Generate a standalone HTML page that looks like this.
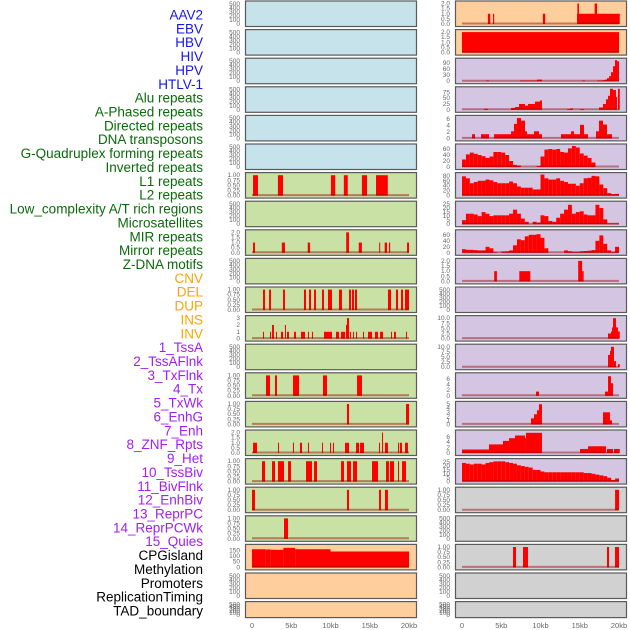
<!DOCTYPE html>
<html><head><meta charset="utf-8"><style>
html,body{margin:0;padding:0;background:#fff;}
svg{display:block;font-family:"Liberation Sans",sans-serif;}
</style></head><body>
<svg id="chart" width="630" height="630" viewBox="0 0 630 630"></svg>
<script>
const labels=["AAV2","EBV","HBV","HIV","HPV","HTLV-1","Alu repeats","A-Phased repeats","Directed repeats","DNA transposons","G-Quadruplex forming repeats","Inverted repeats","L1 repeats","L2 repeats","Low_complexity A/T rich regions","Microsatellites","MIR repeats","Mirror repeats","Z-DNA motifs","CNV","DEL","DUP","INS","INV","1_TssA","2_TssAFlnk","3_TxFlnk","4_Tx","5_TxWk","6_EnhG","7_Enh","8_ZNF_Rpts","9_Het","10_TssBiv","11_BivFlnk","12_EnhBiv","13_ReprPC","14_ReprPCWk","15_Quies","CPGisland","Methylation","Promoters","ReplicationTiming","TAD_boundary"];
const labelColors=["#1515ee","#1515ee","#1515ee","#1515ee","#1515ee","#1515ee","#0a6a0a","#0a6a0a","#0a6a0a","#0a6a0a","#0a6a0a","#0a6a0a","#0a6a0a","#0a6a0a","#0a6a0a","#0a6a0a","#0a6a0a","#0a6a0a","#0a6a0a","#ffa500","#ffa500","#ffa500","#ffa500","#ffa500","#a020f0","#a020f0","#a020f0","#a020f0","#a020f0","#a020f0","#a020f0","#a020f0","#a020f0","#a020f0","#a020f0","#a020f0","#a020f0","#a020f0","#a020f0","#000","#000","#000","#000","#000"];
const xTicks=[0,5,10,15,20];
const xTickLabels=["0","5kb","10kb","15kb","20kb"];
const tEmpty=[0,100,200,300,400,500];
const tOne=[0,0.25,0.5,0.75,1];
const tTwo=[0,0.5,1,1.5,2];
// left column bars [startKb,endKb,value]
const L6=[[0.13,0.76,1],[3.3,3.95,1],[10.05,10.6,1],[11.7,12.2,1],[14.0,14.65,1],[15.8,17.3,1]];
const L8=[[0.13,0.38,1],[3.8,4.2,1],[7.1,7.4,1],[12.0,12.35,2],[13.6,14.0,1],[16.2,16.3,1],[16.9,17.2,1],[17.45,17.6,1],[19.75,20,1]];
const L10=[[1.4,1.66,1],[2.17,2.42,1],[3.95,4.2,1],[6.62,6.88,1],[7.26,7.52,1],[7.9,8.15,1],[8.92,9.17,1],[9.68,10.19,1],[11.08,11.46,1],[12.36,12.61,1],[12.74,12.99,1],[13.12,13.38,1],[17.32,17.71,1],[18.34,18.6,1],[18.98,19.24,1],[19.49,20,1]];
const L11=[[1.4,1.53,1],[2.29,2.42,1],[2.55,2.8,2],[3.06,3.18,1],[3.69,3.95,1],[4.2,4.33,2],[4.46,4.71,1],[5.35,5.6,1],[6.24,6.75,1],[7.13,7.26,1],[7.64,7.77,1],[9.17,10.19,1],[10.7,11.08,1],[11.34,11.85,1],[11.97,12.1,2],[12.1,12.36,3],[12.48,12.61,1],[12.87,12.99,1],[13.25,13.38,1],[14.14,14.27,1],[14.78,15.29,1],[15.67,16.05,1],[16.31,16.69,1],[17.71,17.83,1],[18.09,18.34,1],[19.62,19.75,1]];
const L13=[[1.78,2.29,1],[2.93,3.18,1],[5.22,5.99,1],[9.04,9.55,1],[13.38,14.01,1]];
const L14=[[12.1,12.36,1],[19.62,20,1]];
const L15=[[0.13,0.64,1],[3.31,3.44,1],[5.22,5.35,1],[6.11,6.37,1],[7.13,7.26,1],[8.92,9.04,1],[9.94,10.06,1],[10.32,10.45,1],[11.85,12.36,1],[13.25,13.63,1],[13.76,14.27,1],[16.18,16.31,1],[16.56,16.69,2],[16.94,17.32,1],[18.6,18.73,1],[18.85,19.11,1],[19.49,19.87,1]];
const L16=[[1.27,1.66,1],[2.55,2.93,1],[3.31,4.08,1],[4.59,4.97,1],[6.88,7.64,1],[7.9,8.28,1],[11.34,11.72,1],[12.1,12.61,1],[12.87,13.38,1],[15.29,16.05,1],[17.07,17.45,1],[17.58,18.09,1],[18.6,18.73,1],[19.11,19.62,1]];
const L17=[[0,0.38,1],[12.1,12.36,1],[16.18,16.43,1],[16.94,17.32,1]];
const L18=[[4.08,4.59,1]];
const L19=[[0,1.7,160],[1.7,2.4,158],[2.4,4.0,155],[4.0,5.5,172],[5.5,10.0,160],[10.0,20,140]];
// right column
const R0=[[3.3,3.6,1],[3.95,4.1,1],[10.3,10.6,1],[14.65,20.1,1],[14.7,14.9,2],[16.9,17.2,2]];
const R1=[[0,20,2]];
const R2=[[3.06,3.44,3],[7.39,9.55,3],[9.55,10.19,8],[15.29,15.67,3],[17.2,17.83,3],[17.83,18.22,5],[18.22,18.47,8],[18.47,18.73,15],[18.73,18.98,25],[18.98,19.24,45],[19.24,19.49,75],[19.49,19.75,105],[19.75,20,100]];
const R3=[[2.8,3.31,4],[6.24,6.75,8],[6.75,7.26,12],[7.26,8.03,25],[8.03,8.41,18],[8.41,9.3,25],[9.3,9.94,35],[9.94,10.19,40],[13.38,13.76,3],[13.76,14.14,6],[15.03,15.54,3],[17.45,17.96,10],[17.96,18.34,25],[18.34,18.6,45],[18.6,18.85,60],[18.85,19.24,90],[19.24,19.62,85],[19.62,19.75,55],[19.87,20.1,90]];
const R4=[[1.27,1.66,1.3],[2.42,3.44,1.3],[4.08,6.24,1.3],[6.24,6.62,2.2],[6.62,7.0,4.5],[7.0,7.52,6.3],[7.52,8.03,5.5],[8.03,8.28,2.2],[8.28,9.17,1.3],[9.17,9.81,2.2],[9.81,10.19,1.3],[12.61,14.01,1.3],[13.89,14.27,2.2],[14.27,15.03,1.3],[15.03,15.54,4.2],[15.54,16.05,1.3],[17.07,17.45,2.2],[17.45,17.96,5.5],[17.96,18.47,4.3],[18.47,19.11,1.3]];
// 0.5kb bins
const R5=[25,42,48,44,40,36,30,35,50,50,48,40,20,7,5,0,0,0,0,3,35,58,60,58,60,50,48,62,70,65,45,38,30,15,0,0,0,0,0,0];
const R6=[78,70,50,55,60,60,65,62,55,50,50,50,57,50,37,32,32,32,25,25,85,70,65,65,70,60,55,48,48,40,50,70,72,80,78,45,30,10,6,7];
const R7=[5,13,13,12,10,15,13,10,11,11,11,11,13,18,13,7,3,0,3,2,11,10,4,3,8,13,18,24,13,15,16,12,11,11,24,20,6,1,1,1];
const R8=[12,10,10,9,8,8,20,15,2,0,4,5,8,25,45,42,55,60,60,62,50,15,0,0,0,0,8,5,3,3,5,6,7,9,40,58,30,8,3,20];
const R9=[[4.1,4.45,1],[7.3,8.7,1],[14.8,15.3,2],[15.3,15.5,1]];
const R11=[[18.6,18.98,2.5],[18.98,19.11,3.5],[19.11,19.24,5.5],[19.24,19.62,10],[19.62,19.87,5.5],[19.87,20.1,3.5]];
const R12=[[18.6,18.85,6],[18.85,18.98,8],[18.98,19.36,10],[19.36,19.62,3],[19.87,20.1,1.5]];
const R13=[[9.43,9.81,1.5],[18.22,18.6,1.5],[18.6,18.98,7],[18.98,19.24,4.5]];
const R14=[[8.79,9.17,1.5],[9.17,9.55,2.5],[9.55,9.81,3.5],[9.81,10.19,5],[17.96,18.85,3],[18.85,19.11,1]];
const R15=[[0,3.44,1.3],[3.44,5.22,3.2],[5.22,5.99,4.5],[5.99,6.75,5.5],[6.75,8.03,6.5],[8.03,8.15,5.5],[8.15,10.19,7.5],[15.03,16.05,1.5],[16.05,18.34,2.5],[18.47,19.24,1.5],[19.36,20.1,1.5]];
const R16=[24,23,22,23,23,22,24,25,26,26,26,25,24,23,21,20,19,18,15,15,13,12,12,12,12,12,12,12,12,12,12,11,11,10,9,8,7,5,2,4];
const R17=[[19.5,20,1]];
const R19=[[6.5,6.88,1],[7.77,8.41,1],[18.47,18.73,1],[19.49,20,1]];

const BL="#c6e2ea",GR="#c9e1a4",OR="#fecf9d",PU="#d4c6e2",GY="#d1d1d1";
const E={ticks:tEmpty,dmax:520};
const leftPanels=[
 {bg:BL,...E},{bg:BL,...E},{bg:BL,...E},{bg:BL,...E},{bg:BL,...E},{bg:BL,...E},
 {bg:GR,ticks:tOne,dmax:1.03,bars:L6},{bg:GR,...E},{bg:GR,ticks:tTwo,dmax:2.05,bars:L8},{bg:GR,...E},
 {bg:GR,ticks:tOne,dmax:1.03,bars:L10},{bg:GR,ticks:[0,1,2,3],dmax:3.08,bars:L11},{bg:GR,...E},
 {bg:GR,ticks:tOne,dmax:1.03,bars:L13},{bg:GR,ticks:tOne,dmax:1.03,bars:L14},{bg:GR,ticks:tTwo,dmax:2.05,bars:L15},
 {bg:GR,ticks:tOne,dmax:1.03,bars:L16},{bg:GR,ticks:tOne,dmax:1.03,bars:L17},{bg:GR,ticks:tOne,dmax:1.03,bars:L18},
 {bg:OR,ticks:[0,50,100,150],dmax:185,bars:L19},{bg:OR,...E},{bg:OR,...E}];
const rightPanels=[
 {bg:OR,ticks:tTwo,dmax:2.05,bars:R0},{bg:OR,ticks:tTwo,dmax:2.05,bars:R1},
 {bg:PU,ticks:[0,30,60,90],dmax:105,bars:R2},{bg:PU,ticks:[0,25,50,75],dmax:90,bars:R3},
 {bg:PU,ticks:[0,2,4,6],dmax:6.5,bars:R4},{bg:PU,ticks:[0,20,40,60],dmax:70,bins:R5},
 {bg:PU,ticks:[0,20,40,60,80],dmax:85,bins:R6},{bg:PU,ticks:[0,5,10,15,20,25],dmax:26,bins:R7},
 {bg:PU,ticks:[0,20,40,60],dmax:70,bins:R8},{bg:PU,ticks:tTwo,dmax:2.05,bars:R9},{bg:PU,...E},
 {bg:PU,ticks:[0,2.5,5,7.5,10],dmax:10.3,bars:R11,fmt:1},{bg:PU,ticks:[0,2.5,5,7.5,10],dmax:10.3,bars:R12,fmt:1},
 {bg:PU,ticks:[0,2,4,6],dmax:7.5,bars:R13},{bg:PU,ticks:[0,1,2,3,4,5],dmax:5.2,bars:R14},
 {bg:PU,ticks:[0,2,4,6],dmax:7.8,bars:R15},{bg:PU,ticks:[0,5,10,15,20,25],dmax:27,bins:R16},
 {bg:GY,ticks:tOne,dmax:1.03,bars:R17},{bg:GY,...E},{bg:GY,ticks:tOne,dmax:1.03,bars:R19},{bg:GY,...E},{bg:GY,...E}];

const svg=document.getElementById('chart');const NS="http://www.w3.org/2000/svg";
function mk(t,a,p){const e=document.createElementNS(NS,t);for(const k in a)e.setAttribute(k,a[k]);(p||svg).appendChild(e);return e;}
labels.forEach((s,i)=>{const t=mk('text',{x:203,y:15+i*((611-15)/(labels.length-1)),'text-anchor':'end','dominant-baseline':'central','font-size':13.5,fill:labelColors[i]});


t.textContent=s;});
function fmtTick(v,ticks){const dec=ticks.some(t=>Math.round(t*100)%100!==0)?(ticks.some(t=>Math.round(t*100)%50!==0)?2:1):0;
 if(ticks===tTwo)return v.toFixed(1);return v.toFixed(dec);}
function drawCol(panels,x0,tickX,col){
 const xs=kb=>x0+7+kb*7.85;
 panels.forEach((p,i)=>{
  const top=1+i*28.6;const h=i===panels.length-1?16:25.5;
  const g=mk('g',{});
  
  
  const r=mk('rect',{x:x0+0.5,y:top,width:171,height:h,fill:p.bg,stroke:'#5a5a5a','stroke-width':1.2},g);
  
  
  const y0=top+h-2.5,y1=top+2.5;
  const ys=v=>y0-(v/p.dmax)*(y0-y1+(h<20?0:0.5));
  p.ticks.forEach(t=>{const tx=mk('text',{x:tickX,y:ys(t)+2,'text-anchor':'end','font-size':6.5,fill:'#666'},g);
   
   
   tx.textContent=fmtTick(t,p.ticks);});
  let segs=[];
  if(p.bars)segs=p.bars;
  if(p.bins)segs=p.bins.map((v,k)=>[k*0.5,k*0.5+0.5,v]);
  segs.forEach(s=>{if(s[2]<=0)return;const b=mk('rect',{x:xs(s[0]),y:ys(s[2]),width:Math.max(1,xs(s[1])-xs(s[0])),height:y0-ys(s[2]),fill:'#ff0000'},g);
   
   });
  if(p.bars||p.bins){const l=mk('line',{x1:xs(0),x2:xs(20),y1:y0-0.5,y2:y0-0.5,stroke:'rgba(150,0,0,0.45)','stroke-width':2},g);
   
   }
 });
 xTicks.forEach((t,k)=>{const tx=mk('text',{x:xs(t),y:628,'text-anchor':'middle','font-size':7.5,fill:'#666'});
  
  
  tx.textContent=xTickLabels[k];});
}
drawCol(leftPanels,245,240,'left');
drawCol(rightPanels,455,450,'right');
</script>
</body></html>
